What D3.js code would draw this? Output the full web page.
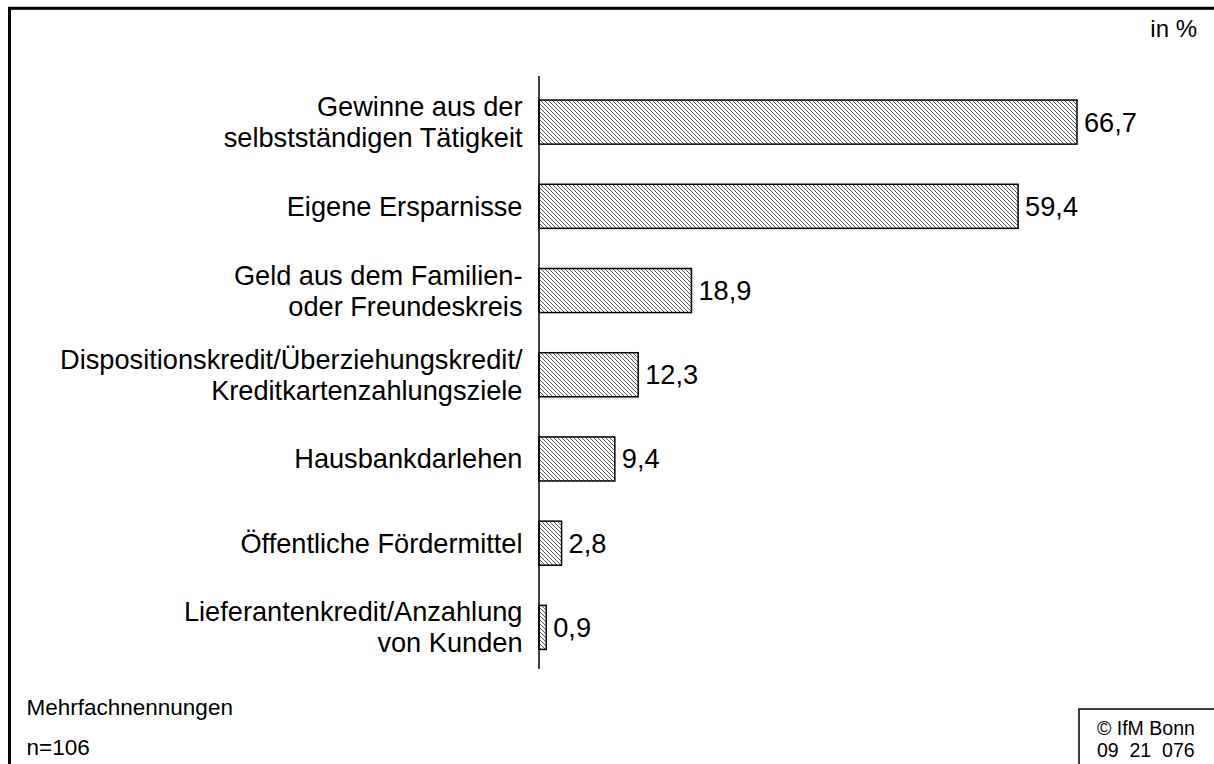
<!DOCTYPE html>
<html>
<head>
<meta charset="utf-8">
<script src="https://cdn.jsdelivr.net/npm/d3@7"></script>
<style>
  html, body { margin: 0; padding: 0; background: #fff; overflow: hidden; }
  svg { display: block; font-family: "Liberation Sans", Arial, sans-serif; }
</style>
</head>
<body>
<script>
// chart data
const categories = [
  ["Gewinne aus der", "selbstständigen Tätigkeit"],
  ["Eigene Ersparnisse"],
  ["Geld aus dem Familien-", "oder Freundeskreis"],
  ["Dispositionskredit/Überziehungskredit/", "Kreditkartenzahlungsziele"],
  ["Hausbankdarlehen"],
  ["Öffentliche Fördermittel"],
  ["Lieferantenkredit/Anzahlung", "von Kunden"]
];
const values = [66.7, 59.4, 18.9, 12.3, 9.4, 2.8, 0.9];
const valueLabels = ["66,7", "59,4", "18,9", "12,3", "9,4", "2,8", "0,9"];
const unitLabel = "in %";
const notes = ["Mehrfachnennungen", "n=106"];
const sourceLines = ["© IfM Bonn", "09  21  076"];

const WIDTH = 1214;
const HEIGHT = 764;
const AXIS_X = 539;
const LABEL_SIZE = 27.2;

const svg = d3.select('body')
  .append('svg')
  .attr('width', WIDTH)
  .attr('height', HEIGHT);

// hatch fill
svg.append('defs')
  .append('pattern')
  .attr('id', 'hatch')
  .attr('patternUnits', 'userSpaceOnUse')
  .attr('width', 4)
  .attr('height', 4)
  .append('path')
  .attr('d', 'M0,0 L4,4 M-1,3 L1,5 M3,-1 L5,1')
  .attr('stroke', '#5a5a5a')
  .attr('stroke-width', 1);

// outer frame (runs off the right and bottom edge)
svg.append('rect')
  .attr('x', 9.5)
  .attr('y', 8.3)
  .attr('width', 1400)
  .attr('height', 1000)
  .attr('fill', 'none')
  .attr('stroke', '#000')
  .attr('stroke-width', 3);

const y = d3.scaleBand()
  .domain(d3.range(categories.length))
  .range([80, 669.5])
  .paddingInner(0.477)
  .paddingOuter(0.2385);

const x = d3.scaleLinear()
  .domain([0, 70])
  .range([AXIS_X, AXIS_X + 564.6]);

svg.selectAll('rect.bar')
  .data(values)
  .enter()
  .append('rect')
  .attr('class', 'bar')
  .attr('x', x(0))
  .attr('y', (d, i) => y(i))
  .attr('width', d => x(d) - x(0))
  .attr('height', y.bandwidth())
  .attr('fill', 'url(#hatch)')
  .attr('stroke', '#000')
  .attr('stroke-width', 1.5);

// value labels
svg.selectAll('text.val')
  .data(values)
  .enter()
  .append('text')
  .attr('class', 'val')
  .attr('x', d => x(d) + 7)
  .attr('y', (d, i) => y(i) + y.bandwidth() / 2 + 9.5)
  .attr('font-size', LABEL_SIZE)
  .attr('fill', '#000')
  .text((d, i) => valueLabels[i]);

// category labels
const LINE_GAP = 31;
svg.selectAll('text.cat')
  .data(categories)
  .enter()
  .append('text')
  .attr('class', 'cat')
  .attr('text-anchor', 'end')
  .attr('font-size', LABEL_SIZE)
  .attr('fill', '#000')
  .each(function(lines, i) {
    const mid = y(i) + y.bandwidth() / 2;
    const first = mid + 9.5 - (lines.length - 1) * LINE_GAP / 2;
    d3.select(this).selectAll('tspan')
      .data(lines)
      .enter()
      .append('tspan')
      .attr('x', 522.5)
      .attr('y', (l, j) => first + j * LINE_GAP)
      .text(l => l);
  });

// vertical axis line
svg.append('line')
  .attr('x1', AXIS_X)
  .attr('x2', AXIS_X)
  .attr('y1', 76)
  .attr('y2', 669)
  .attr('stroke', '#000')
  .attr('stroke-width', 1.5);

svg.append('text')
  .attr('x', 1197)
  .attr('y', 36.5)
  .attr('text-anchor', 'end')
  .attr('font-size', 24)
  .text(unitLabel);

svg.selectAll('text.note')
  .data(notes)
  .enter()
  .append('text')
  .attr('class', 'note')
  .attr('x', 26.5)
  .attr('y', (d, i) => 715 + i * 40)
  .attr('font-size', 22.5)
  .text(d => d);

// source box
svg.append('rect')
  .attr('x', 1079)
  .attr('y', 709)
  .attr('width', 200)
  .attr('height', 100)
  .attr('fill', '#fff')
  .attr('stroke', '#000')
  .attr('stroke-width', 1.5);

svg.selectAll('text.src')
  .data(sourceLines)
  .enter()
  .append('text')
  .attr('class', 'src')
  .attr('x', 1097)
  .attr('y', (d, i) => 735 + i * 21.5)
  .attr('font-size', 19.5)
  .style('white-space', 'pre')
  .text(d => d);
</script>
</body>
</html>
